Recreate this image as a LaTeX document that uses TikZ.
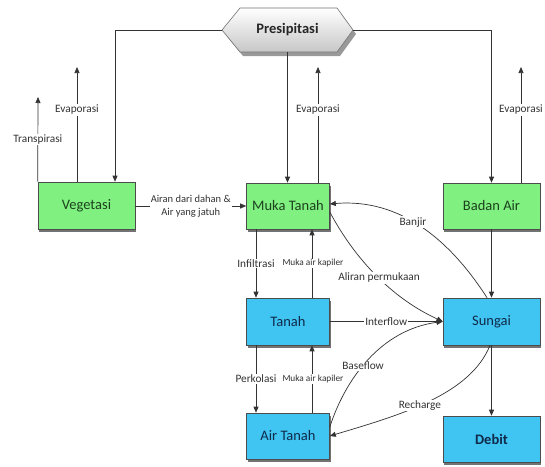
\documentclass[tikz,border=0pt]{standalone}
\usepackage{fontspec}
\setmainfont{Carlito}
\usetikzlibrary{arrows.meta,shadows,calc}
\definecolor{boxgreen}{RGB}{128,240,128}
\definecolor{boxblue}{RGB}{64,196,242}
\definecolor{greentext}{RGB}{28,66,30}
\definecolor{bluetext}{RGB}{16,42,74}
\begin{document}
\begin{tikzpicture}[x=1pt,y=-1pt,
  box/.style={draw=black!70, line width=0.6pt, minimum width=97pt, minimum height=46pt, inner sep=0pt,
    font=\fontsize{14.5}{17}\selectfont,
    drop shadow={shadow xshift=1pt,shadow yshift=-3pt,fill=black!55,opacity=1}},
  gbox/.style={box, fill=boxgreen, text=greentext},
  bbox/.style={box, fill=boxblue, text=bluetext},
  midbox/.style={minimum width=83pt},
  arr/.style={draw=black!80, line width=0.7pt, -{Triangle[length=6pt,width=5pt]}},
  lbl/.style={fill=white, inner sep=1pt, text=black!80, font=\fontsize{11.3}{13}\selectfont},
  slbl/.style={lbl, font=\fontsize{9.3}{11}\selectfont},
  tlbl/.style={lbl, align=center, font=\fontsize{10.5}{13}\selectfont}
]
\fill[white] (0,0) rectangle (545,466);
\useasboundingbox (0,0) rectangle (545,466);

% Presipitasi hexagon
\fill[black!40, shift={(3,4)}] (222,30) -- (240,8) -- (337,8) -- (353,30) -- (337,52) -- (240,52) -- cycle;
\shade[top color=white, bottom color=black!22, draw=black!55, line width=0.6pt]
  (222,30) -- (240,8) -- (337,8) -- (353,30) -- (337,52) -- (240,52) -- cycle;
\node[minimum width=131pt, minimum height=44pt, inner sep=0pt, text=black!85,
  font=\fontsize{14.5}{17}\selectfont\bfseries] (pres) at (287.5,30) {Presipitasi};

% boxes
\node[gbox, minimum height=47pt] (veg) at (86.5,205.5) {Vegetasi};
\node[gbox, midbox] (muka) at (288,206) {Muka Tanah};
\node[gbox] (badan) at (491.5,206) {Badan Air};
\node[bbox, midbox, minimum height=47pt] (tanah) at (288,321.5) {Tanah};
\node[bbox, midbox] (airt) at (288,436) {Air Tanah};
\node[bbox, minimum height=47pt] (sungai) at (491.5,321.5) {Sungai};
\node[bbox, font=\fontsize{14.5}{17}\selectfont\bfseries] (debit) at (491.5,439) {Debit};

% free ends
\coordinate (tr) at (38,97);
\coordinate (ev1) at (77,67);
\coordinate (ev2) at (318,67);
\coordinate (ev3) at (521,67);

% precipitation
\draw[arr] (pres.west) -| ([xshift=28.5pt]veg.north);
\draw[arr] (pres.south) -- (pres.south |- muka.north);
\draw[arr] (pres.east) -| (badan.north);

% evaporation / transpiration
\draw[arr] (veg.north west) -- (tr) node[lbl, pos=0.5] {Transpirasi};
\draw[arr] ([xshift=-9.5pt]veg.north) -- (ev1) node[lbl, pos=0.626] {Evaporasi};
\draw[arr] ([xshift=30pt]muka.north) -- (ev2) node[lbl, pos=0.63] {Evaporasi};
\draw[arr] ([xshift=29.5pt]badan.north) -- (ev3) node[lbl, pos=0.63] {Evaporasi};

% vegetation to surface
\draw[arr] (veg.east |- muka.west) -- (muka.west)
  node[tlbl, midway] {Airan dari dahan \&\\Air yang jatuh};

% vertical exchanges
\draw[arr] ([xshift=-32pt]muka.south) -- ([xshift=-32pt]muka.south |- tanah.north)
  node[lbl, midway] {Infiltrasi};
\draw[arr] ([xshift=24pt]tanah.north) -- ([xshift=24pt]tanah.north |- muka.south)
  node[slbl, midway, xshift=1pt] {Muka air kapiler};
\draw[arr] ([xshift=-32pt]tanah.south) -- ([xshift=-32pt]tanah.south |- airt.north)
  node[lbl, midway] {Perkolasi};
\draw[arr] ([xshift=24pt]airt.north) -- ([xshift=24pt]airt.north |- tanah.south)
  node[slbl, midway, xshift=1pt] {Muka air kapiler};

% right column
\draw[arr] (badan.south) -- (sungai.north);
\draw[arr] (sungai.south) -- (debit.north);

% flows to river
\draw[arr] (tanah.east) -- (sungai.west) node[lbl, midway] {Interflow};
\draw[arr] ([yshift=-6pt]muka.east) .. controls (350,250) and (385,295) .. (sungai.west)
  node[lbl, pos=0.56] {Aliran permukaan};
\draw[arr] ([xshift=-4.5pt]sungai.north) .. controls (450,240) and (400,198) .. ([yshift=2pt]muka.east)
  node[lbl, pos=0.55] {Banjir};
\draw[arr] ([yshift=9pt]airt.east) .. controls (345,380) and (380,330) .. (sungai.west)
  node[lbl, pos=0.45] {Baseflow};
\draw[arr] ([xshift=-1.5pt]sungai.south) .. controls (470,395) and (400,415) .. (airt.east)
  node[lbl, pos=0.55] {Recharge};
\end{tikzpicture}
\end{document}
